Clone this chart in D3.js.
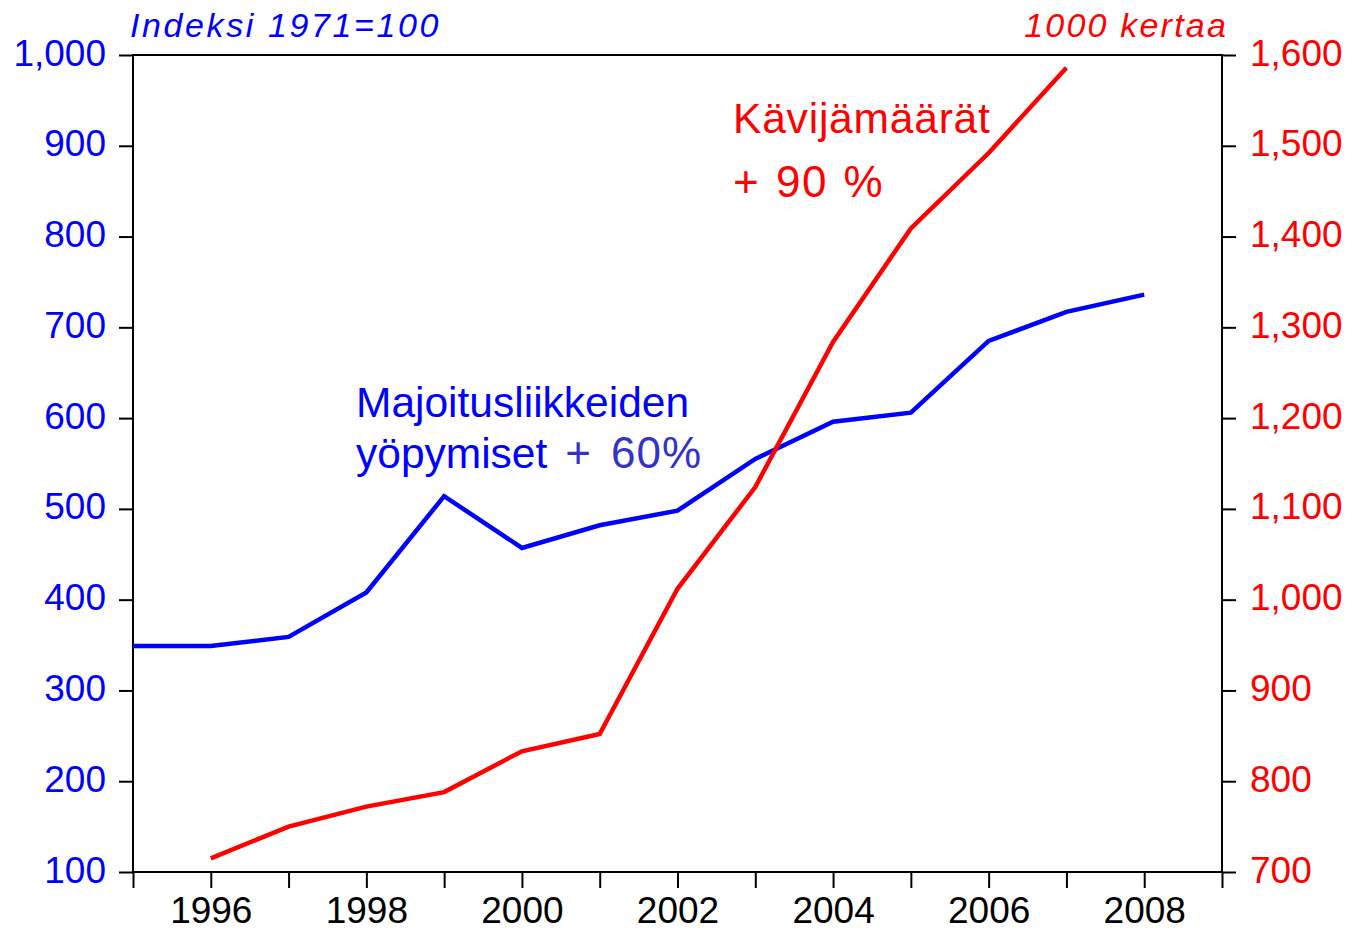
<!DOCTYPE html>
<html>
<head>
<meta charset="utf-8">
<script src="https://cdn.jsdelivr.net/npm/d3@7"></script>
<style>
  body { margin: 0; background: #fff; }
  text { font-family: "Liberation Sans", Arial, sans-serif; }
</style>
</head>
<body>
<svg id="chart" width="1348" height="931"></svg>
<script>
// Data
const yearsBlue = [1995, 1996, 1997, 1998, 1999, 2000, 2001, 2002, 2003, 2004, 2005, 2006, 2007, 2008]
const overnightIndex = [349, 349, 359, 408, 514, 457, 482, 498, 555, 596, 606, 685, 717, 736]
const yearsRed = [1996, 1997, 1998, 1999, 2000, 2001, 2002, 2003, 2004, 2005, 2006, 2007]
const visitors = [715, 750, 772, 788, 833, 852, 1012, 1124, 1284, 1409, 1492, 1586]
const leftTicks = [100, 200, 300, 400, 500, 600, 700, 800, 900, 1000]
const rightTicks = [700, 800, 900, 1000, 1100, 1200, 1300, 1400, 1500, 1600]
const xTickYears = d3.range(1995, 2010)
const xLabelYears = [1996, 1998, 2000, 2002, 2004, 2006, 2008]

const margin = {top: 55, right: 126, bottom: 59, left: 133}
const width = 1348, height = 931
const innerW = width - margin.left - margin.right
const innerH = height - margin.top - margin.bottom

const blue = "#0000ff", red = "#ff0000"

const svg = d3.select("#chart")
const g = svg.append("g").attr("transform", `translate(${margin.left},${margin.top})`)

const x = d3.scaleLinear().domain([1995, 2009]).range([0, innerW])
const yL = d3.scaleLinear().domain([100, 1000]).range([innerH, 0])
const yR = d3.scaleLinear().domain([700, 1600]).range([innerH, 0])

const fmt = d3.format(",")

// frame
g.append("rect")
  .attr("width", innerW).attr("height", innerH)
  .attr("fill", "none").attr("stroke", "#000").attr("stroke-width", 2)

// left axis
const left = g.append("g")
  .call(d3.axisLeft(yL).tickValues(leftTicks).tickFormat(fmt).tickSize(14).tickPadding(13))
left.select(".domain").remove()
left.selectAll("line").attr("stroke", "#000").attr("stroke-width", 2)
left.selectAll("text").attr("fill", blue).style("font-size", "37px")
  .attr("dy", "0.27em")

// right axis
const right = g.append("g").attr("transform", `translate(${innerW},0)`)
  .call(d3.axisRight(yR).tickValues(rightTicks).tickFormat(fmt).tickSize(14).tickPadding(14))
right.select(".domain").remove()
right.selectAll("line").attr("stroke", "#000").attr("stroke-width", 2)
right.selectAll("text").attr("fill", red).style("font-size", "37px")
  .attr("dy", "0.27em")

// bottom axis
const bottom = g.append("g").attr("transform", `translate(0,${innerH})`)
  .call(d3.axisBottom(x).tickValues(xTickYears)
    .tickFormat(d => xLabelYears.includes(d) ? d : "")
    .tickSize(16).tickPadding(9))
bottom.select(".domain").remove()
bottom.selectAll("line").attr("stroke", "#000").attr("stroke-width", 2)
bottom.selectAll("text").attr("fill", "#000").style("font-size", "37px")

// axis captions
svg.append("text")
  .attr("x", 130).attr("y", 37)
  .attr("fill", blue).style("font-size", "34px").style("font-style", "italic")
  .style("letter-spacing", "2.6px")
  .text("Indeksi 1971=100")
svg.append("text")
  .attr("x", 1228).attr("y", 37).attr("text-anchor", "end")
  .attr("fill", red).style("font-size", "34px").style("font-style", "italic")
  .style("letter-spacing", "2.2px")
  .text("1000 kertaa")

// lines
const lineBlue = d3.line().x((d, i) => x(yearsBlue[i])).y(d => yL(d))
const lineRed = d3.line().x((d, i) => x(yearsRed[i])).y(d => yR(d))

g.append("path").datum(overnightIndex)
  .attr("d", lineBlue).attr("fill", "none")
  .attr("stroke", blue).attr("stroke-width", 4.5)

g.append("path").datum(visitors)
  .attr("d", lineRed).attr("fill", "none")
  .attr("stroke", red).attr("stroke-width", 4.5)

// annotations
svg.append("text").attr("x", 356).attr("y", 417)
  .attr("fill", blue).style("font-size", "42.5px")
  .text("Majoitusliikkeiden")
const t2 = svg.append("text").attr("x", 356).attr("y", 468)
  .style("font-size", "42.5px").style("word-spacing", "6px")
t2.append("tspan").attr("fill", blue).text("yöpymiset ")
t2.append("tspan").attr("fill", "#3333cc").style("font-size", "44px")
  .style("letter-spacing", "1px").text("+ 60%")

svg.append("text").attr("x", 733).attr("y", 133)
  .attr("fill", red).style("font-size", "42.5px").style("letter-spacing", "0.8px")
  .text("Kävijämäärät")
svg.append("text").attr("x", 733).attr("y", 197)
  .attr("fill", red).style("font-size", "44px").style("letter-spacing", "1.5px")
  .style("word-spacing", "2px")
  .text("+ 90 %")
</script>
</body>
</html>
